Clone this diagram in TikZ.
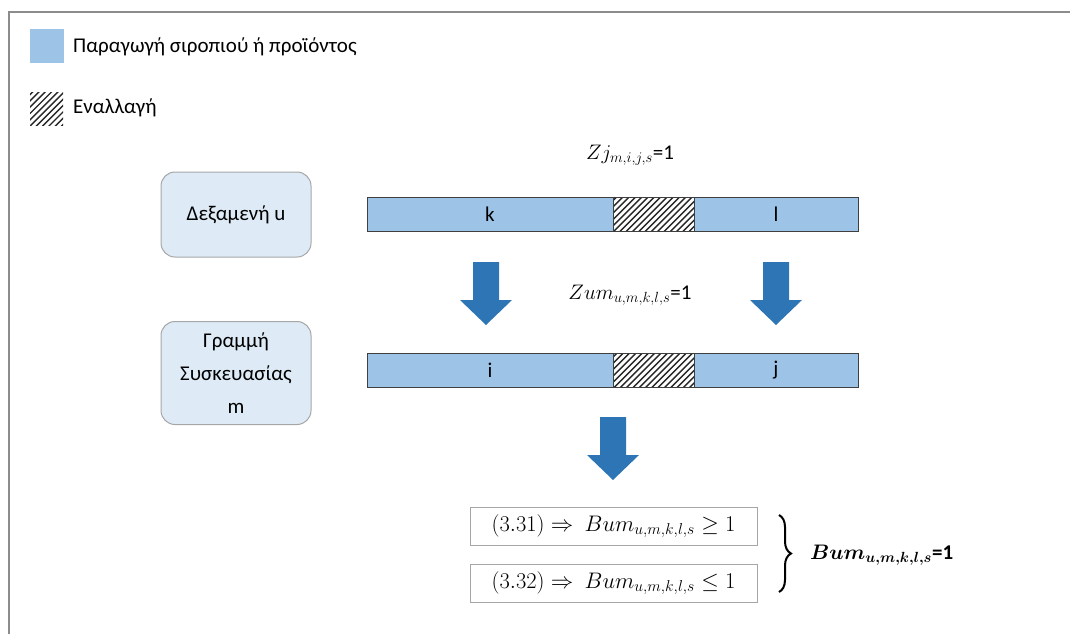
\RequirePackage{fix-cm}
\documentclass[tikz,border=0pt]{standalone}
\usepackage{amsmath}
\usepackage{bm}
\usepackage{fontspec}
\setmainfont{Carlito}
\usetikzlibrary{decorations.pathreplacing,calc}
\definecolor{barfill}{HTML}{9DC3E6}
\definecolor{bardraw}{HTML}{3F3F3F}
\definecolor{boxfill}{HTML}{DEEBF7}
\definecolor{boxdraw}{HTML}{A6A6A6}
\definecolor{arrowc}{HTML}{2E75B6}
\definecolor{framec}{HTML}{8C8C8C}
\newcommand\myhatch[4]{%
  \begin{scope}
    \clip (#1,#2) rectangle (#3,#4);
    \foreach \t in {0,6.3,...,132}
      \draw[line width=1.4pt,black!85] (#1-45+\t,#4+2) -- ++(50,-50);
  \end{scope}}
\newcommand\blockarrow[1]{%
  \fill[arrowc] ($(#1)+(-13,0)$) -- ++(26,0) -- ++(0,38) -- ++(13,0)
     -- ($(#1)+(0,63)$) -- ($(#1)+(-26,38)$) -- ++(13,0) -- cycle;}
\tikzset{
  seg/.style={draw=bardraw, fill=barfill, line width=1pt, minimum height=34pt, inner sep=0pt},
  hseg/.style={draw=bardraw, line width=1pt, minimum height=34pt, inner sep=0pt},
  entity/.style={draw=boxdraw, fill=boxfill, line width=1pt, rounded corners=14pt, minimum width=150pt, inner sep=0pt, align=center},
  eqbox/.style={draw=boxdraw, line width=1pt, minimum width=287pt, minimum height=38pt, inner sep=0pt, font=\fontsize{22.5}{27}\selectfont},
  txt/.style={inner sep=0pt}
}
\begin{document}
\begin{tikzpicture}[x=1pt,y=-1pt,font=\fontsize{21}{33}\selectfont]
\useasboundingbox (0,0) rectangle (1070,633);
\begin{scope}
\clip (0,0) rectangle (1070,633);
\draw[framec, line width=1.5pt] (9,12) rectangle (1080,645);
\end{scope}
% legend
\fill[barfill] (30,29) rectangle (64,63);
\node[txt, anchor=west] (leg1) at (73,47) {Παραγωγή σιροπιού ή προϊόντος};
\myhatch{30}{92}{63}{125}
\node[txt, anchor=west] (leg2) at (73,108) {Εναλλαγή};
% entity boxes
\node[entity, minimum height=85pt] (tank) at (236,214.5) {Δεξαμενή u};
\node[entity, minimum height=103pt] (line) at (236,373) {Γραμμή\\Συσκευασίας\\m};
% top bar
\node[seg, minimum width=246pt] (k) at (490,214) {k};
\myhatch{613}{197}{694}{231}
\node[hseg, minimum width=81pt] (sw1) at (653.5,214) {};
\node[seg, minimum width=164pt] (l) at (776,214) {l};
\node[txt] (zj) at (630,155) {$Zj_{m,i,j,s}$=1};
% bottom bar
\node[seg, minimum width=246pt] (i) at (490,370.5) {i};
\myhatch{613}{353.5}{694}{387.5}
\node[hseg, minimum width=81pt] (sw2) at (653.5,370.5) {};
\node[seg, minimum width=164pt] (j) at (776,370.5) {j};
\node[txt] (zum) at (630,295) {$Zum_{u,m,k,l,s}$=1};
% block arrows
\coordinate (a1) at (486,262);
\coordinate (a2) at (776,262);
\coordinate (a3) at (613,417);
\blockarrow{a1}
\blockarrow{a2}
\blockarrow{a3}
% equations
\node[eqbox] (eq1) at (613.5,526) {$(3.31) \Rightarrow\ Bum_{u,m,k,l,s} \geq 1$};
\node[eqbox] (eq2) at (613.5,583) {$(3.32) \Rightarrow\ Bum_{u,m,k,l,s} \leq 1$};
\draw[line width=2pt, decorate, decoration={brace, amplitude=12pt}] (779,515) -- (779,592);
\node[txt, anchor=west] (res) at (810,555) {$\bm{Bum_{u,m,k,l,s}}$\textbf{=1}};
\end{tikzpicture}
\end{document}
